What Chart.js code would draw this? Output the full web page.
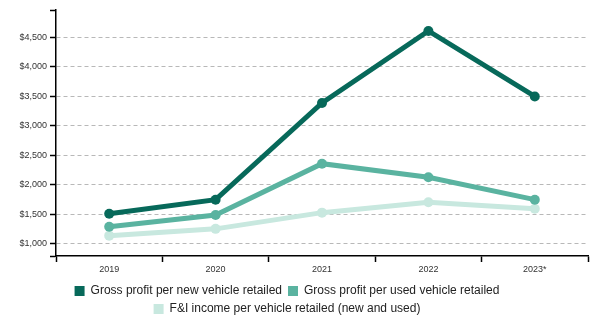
<!DOCTYPE html>
<html>
<head>
<meta charset="utf-8">
<script src="https://cdn.jsdelivr.net/npm/chart.js@4/dist/chart.umd.min.js"></script>
<style>
  html, body { margin: 0; padding: 0; background: #fff; }
  #wrap { width: 615px; height: 326px; }
</style>
</head>
<body>
<div id="wrap"><canvas id="myChart" width="615" height="326"></canvas></div>
<script>
/*
  • Data
  ---------- ---------- ---------- ---------- ----------
*/
const years = ['2019', '2020', '2021', '2022', '2023*'];
const newVehicle = [1510, 1750, 3390, 4610, 3500];
const usedVehicle = [1290, 1490, 2360, 2130, 1750];
const fiIncome = [1140, 1255, 1530, 1705, 1595];
const yTicks = [1000, 1500, 2000, 2500, 3000, 3500, 4000, 4500];
const yMin = 795;
const yMax = 4965;

const labelNew = 'Gross profit per new vehicle retailed';
const labelUsed = 'Gross profit per used vehicle retailed';
const labelFi = 'F&I income per vehicle retailed (new and used)';

/*
  • Config
  ---------- ---------- ---------- ---------- ----------
*/
const COLORS = {
  new: '#07695a',
  used: '#5ab3a0',
  fi: '#c8e8df'
};
const FONT = '"Liberation Sans", Arial, sans-serif';

function lineSet (label, data, color) {
  return {
    label: label,
    data: data,
    borderColor: color,
    backgroundColor: color,
    pointBackgroundColor: color,
    pointBorderWidth: 0,
    pointRadius: 5,
    borderWidth: 5,
    tension: 0
  };
}

// nudge the legend a little to the left, like the original
const legendShift = {
  id: 'legendShift',
  afterLayout (chart) {
    if (chart.legend) chart.legend.right -= 14;
  }
};

const ctx = document.getElementById('myChart').getContext('2d');
new Chart(ctx, {
  type: 'line',
  data: {
    labels: years,
    datasets: [
      lineSet(labelNew, newVehicle, COLORS.new),
      lineSet(labelUsed, usedVehicle, COLORS.used),
      lineSet(labelFi, fiIncome, COLORS.fi)
    ]
  },
  plugins: [legendShift],
  options: {
    responsive: false,
    animation: false,
    layout: {
      padding: {top: 10, right: 27, left: 0, bottom: 1}
    },
    plugins: {
      tooltip: {enabled: false},
      legend: {
        position: 'bottom',
        labels: {
          boxWidth: 10,
          boxHeight: 10,
          padding: 6,
          color: '#222',
          font: {family: FONT, size: 12},
          generateLabels: chart => Chart.defaults.plugins.legend.labels.generateLabels(chart)
            .map(l => Object.assign(l, {lineWidth: 0}))
        }
      }
    },
    scales: {
      x: {
        offset: true,
        grid: {
          offset: true,
          drawOnChartArea: false,
          tickLength: 6,
          tickWidth: 1.5,
          tickColor: '#000'
        },
        border: {color: '#000', width: 1.5},
        ticks: {
          color: '#333',
          padding: 2,
          font: {family: FONT, size: 9}
        },
        afterFit: function (axis) { axis.height = 23; }
      },
      y: {
        min: yMin,
        max: yMax,
        afterBuildTicks: function (axis) {
          axis.ticks = [yMin].concat(yTicks, [yMax]).map(v => ({value: v}));
        },
        afterFit: function (axis) { axis.width = 56; },
        grid: {
          color: c => (c.tick && yTicks.includes(c.tick.value)) ? '#b8b8b8' : 'rgba(0,0,0,0)',
          tickLength: 6,
          tickWidth: 1.5,
          tickColor: '#000'
        },
        border: {color: '#000', width: 1.5, dash: [4, 3]},
        ticks: {
          color: '#333',
          padding: 3,
          font: {family: FONT, size: 9},
          callback: v => yTicks.includes(v) ? '$' + v.toLocaleString('en-US') : ''
        }
      }
    }
  }
});
</script>
</body>
</html>
